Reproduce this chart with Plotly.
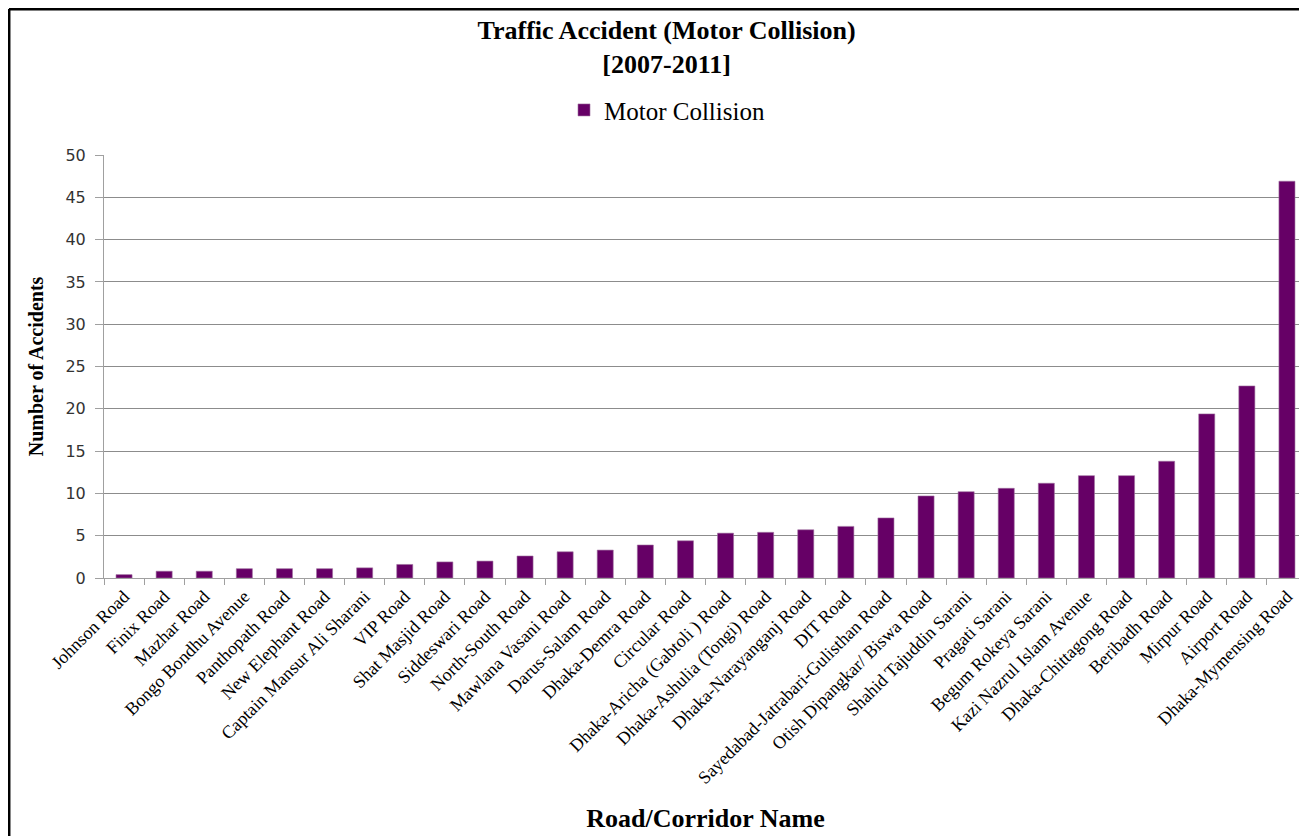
import plotly.graph_objects as go

roads = [
    "Johnson Road", "Finix Road", "Mazhar Road", "Bongo Bondhu Avenue",
    "Panthopath Road", "New Elephant Road", "Captain Mansur Ali Sharani",
    "VIP Road", "Shat Masjid Road", "Siddeswari Road", "North-South Road",
    "Mawlana Vasani Road", "Darus-Salam Road", "Dhaka-Demra Road",
    "Circular Road", "Dhaka-Aricha (Gabtoli ) Road", "Dhaka-Ashulia (Tongi) Road",
    "Dhaka-Narayanganj Road", "DIT Road", "Sayedabad-Jatrabari-Gulisthan Road",
    "Otish Dipangkar/ Biswa Road", "Shahid Tajuddin Sarani", "Pragati Sarani",
    "Begum Rokeya Sarani", "Kazi Nazrul Islam Avenue", "Dhaka-Chittagong Road",
    "Beribadh Road", "Mirpur Road", "Airport Road", "Dhaka-Mymensing Road",
]
motor_collision = [
    0.4, 0.8, 0.8, 1.1, 1.1, 1.1, 1.2, 1.6, 1.9, 2.0, 2.6, 3.1, 3.3, 3.9, 4.4,
    5.3, 5.4, 5.7, 6.1, 7.1, 9.7, 10.2, 10.6, 11.2, 12.1, 12.1, 13.8, 19.4, 22.7, 46.9,
]
y_ticks = [0, 5, 10, 15, 20, 25, 30, 35, 40, 45, 50]

SERIF = "Liberation Serif, Times New Roman, serif"

fig = go.Figure()
fig.add_trace(go.Bar(
    x=roads, y=motor_collision, name="Motor Collision",
    marker=dict(color="#660066", line=dict(color="#a070a0", width=0.6)),
))

fig.update_layout(
    width=1299, height=828,
    margin=dict(l=96, r=0, t=147, b=258),
    paper_bgcolor="white", plot_bgcolor="white",
    bargap=0.6,
    title=dict(
        text="<b>Traffic Accident (Motor Collision)<br>[2007-2011]</b>",
        font=dict(family=SERIF, size=26, color="black"),
        x=0.507, xanchor="center", y=0.962, yanchor="middle",
    ),
    showlegend=True,
    legend=dict(
        orientation="h", x=0.468, xanchor="center", y=1.106, yanchor="middle",
        font=dict(family=SERIF, size=25, color="black"),
        itemwidth=30, bgcolor="rgba(0,0,0,0)",
    ),
    xaxis=dict(
        type="category", tickangle=-45,
        tickfont=dict(family=SERIF, size=18, color="black"),
        showline=True, linecolor="#a0a0a0", linewidth=1,
        ticks="outside", tickson="boundaries", ticklen=6, tickcolor="#a0a0a0",
        showgrid=False,
        title=dict(text="<b>Road/Corridor Name</b>",
                   font=dict(family=SERIF, size=26, color="black"), standoff=22),
    ),
    yaxis=dict(
        range=[0, 50], tickvals=y_ticks,
        tickfont=dict(family="DejaVu Sans, Verdana, sans-serif", size=16, color="#333333"),
        ticklabelstandoff=6,
        showline=True, linecolor="#a0a0a0", linewidth=1,
        ticks="outside", ticklen=8, tickcolor="#a0a0a0",
        showgrid=True, gridcolor="#8c8c8c", gridwidth=1,
        zeroline=False,
        title=dict(text="<b>Number of Accidents</b>",
                   font=dict(family=SERIF, size=20, color="black"), standoff=16),
    ),
    shapes=[
        dict(type="line", xref="paper", yref="paper", x0=-0.079, x1=1.0, y0=1.345, y1=1.345,
             line=dict(color="black", width=3)),
        dict(type="line", xref="paper", yref="paper", x0=-0.079, x1=-0.079, y0=1.345, y1=-0.62,
             line=dict(color="black", width=3)),
    ],
)

fig.write_html("out.html")
